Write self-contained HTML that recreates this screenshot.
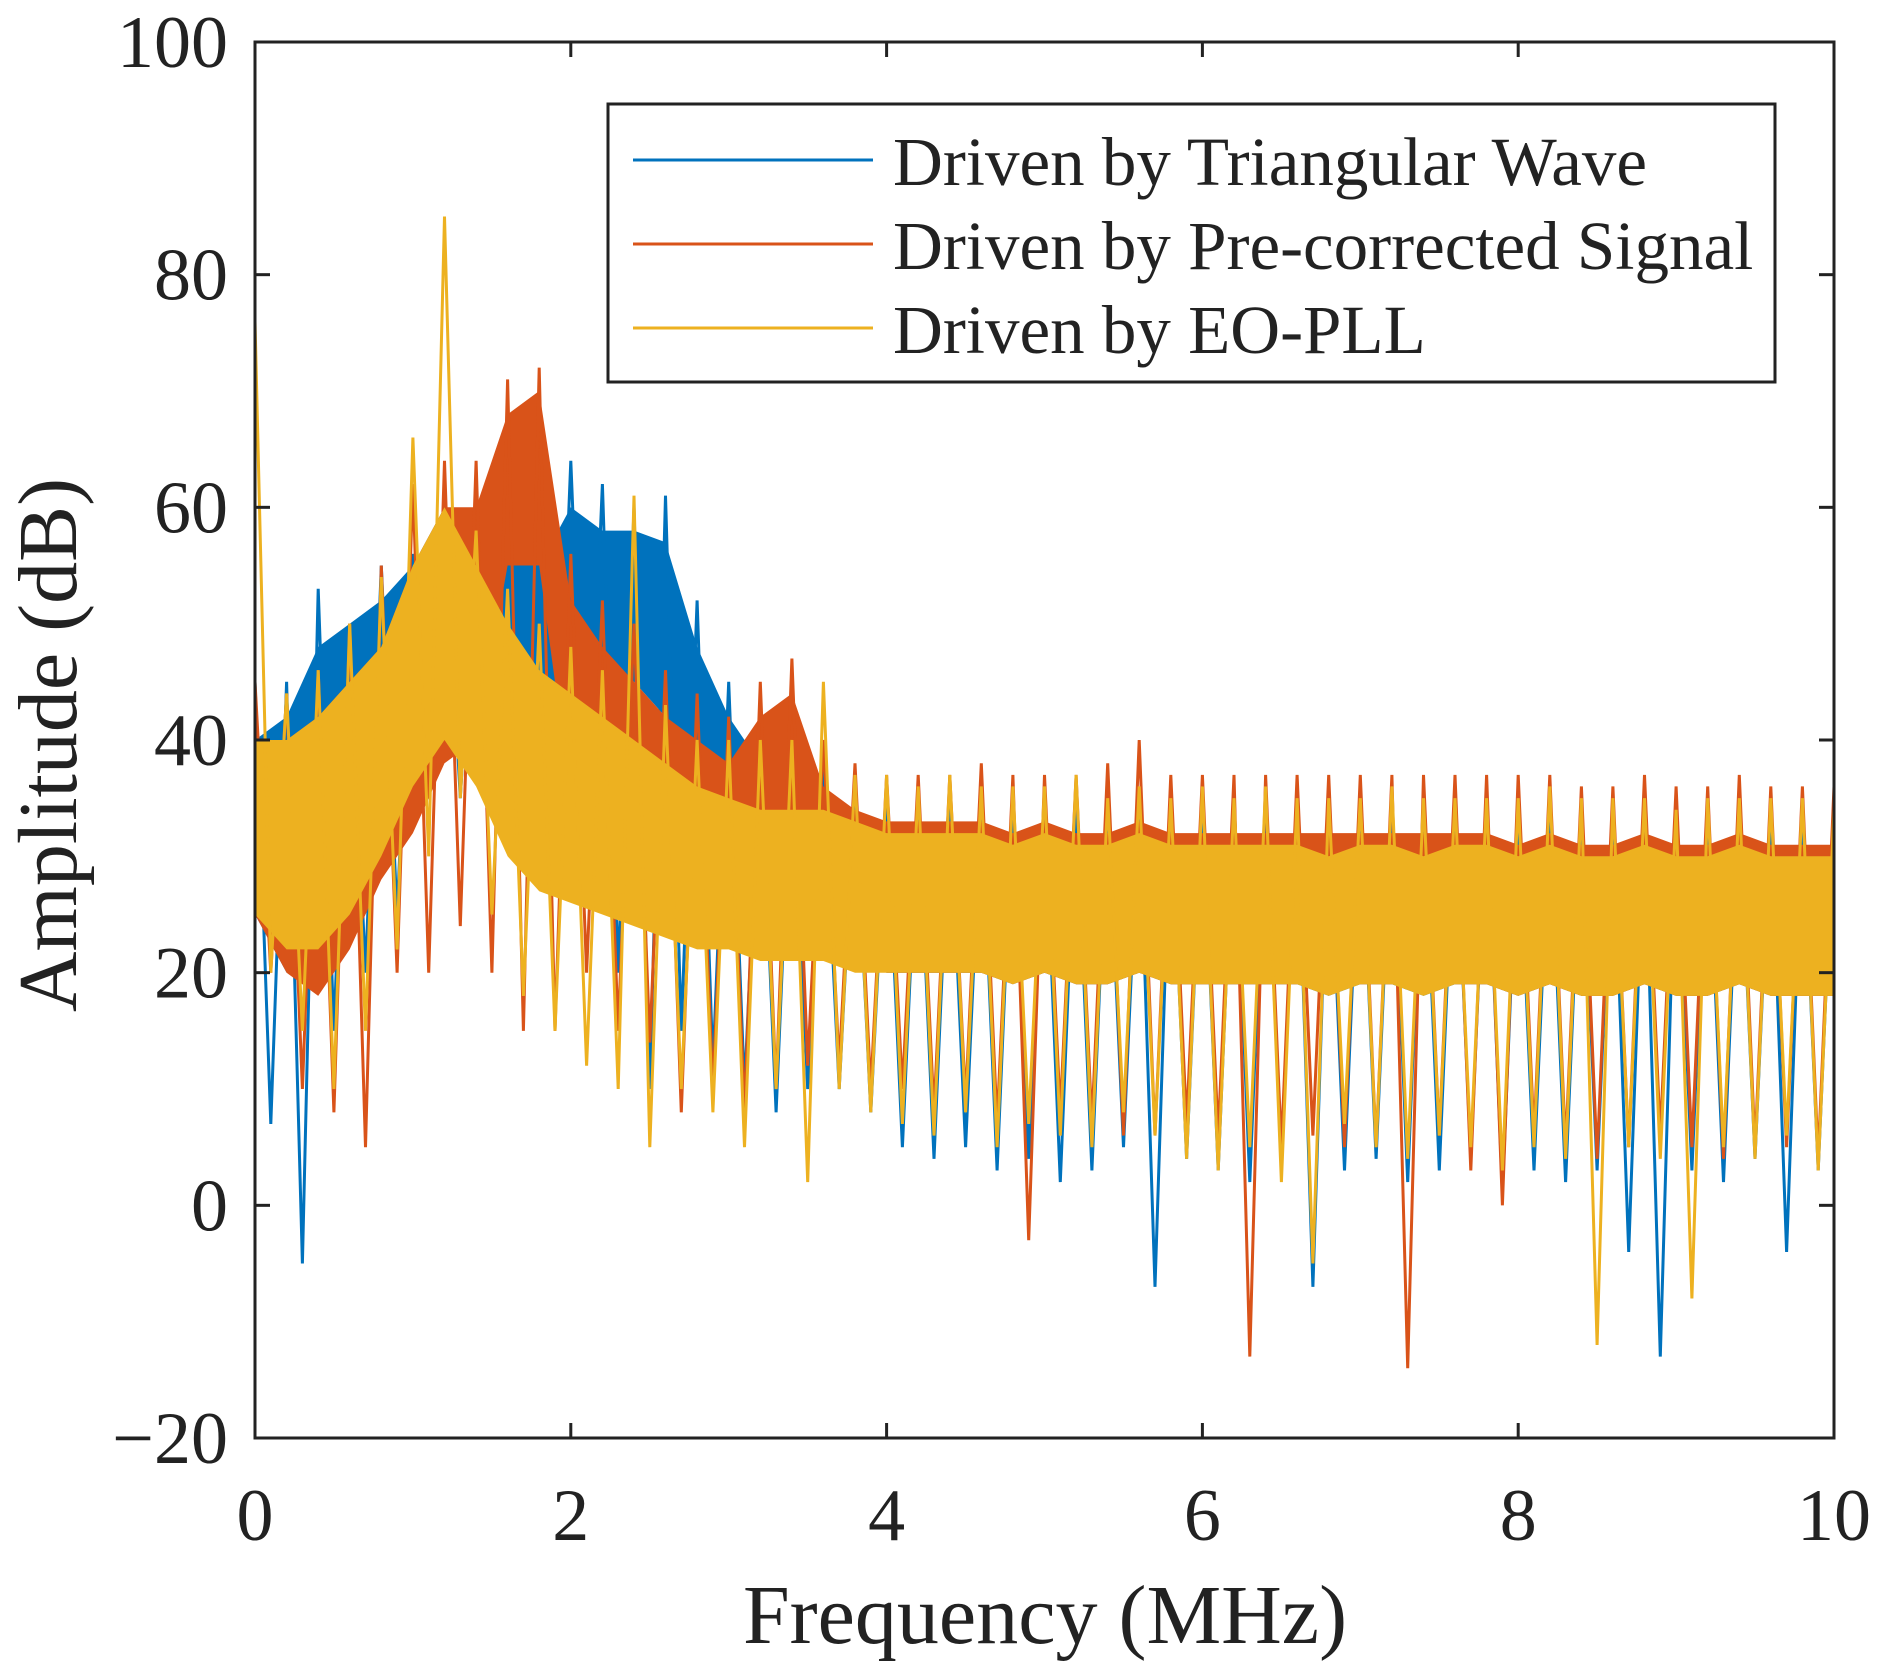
<!DOCTYPE html>
<html><head><meta charset="utf-8"><style>
html,body{margin:0;padding:0;background:#fff;}
svg text{font-family:"Liberation Serif",serif;fill:#222;}
</style></head><body>
<svg id="chart" width="1883" height="1670" viewBox="0 0 1883 1670" xmlns="http://www.w3.org/2000/svg">
<rect width="1883" height="1670" fill="#fff"/>
<defs><clipPath id="clip"><rect x="255" y="42" width="1579" height="1396"/></clipPath></defs>
<g id="plot" clip-path="url(#clip)"></g>
<g id="axes"></g>
<g id="legend">
<rect x="608" y="104" width="1167" height="278" fill="#fff" stroke="#222" stroke-width="3"/>
<line x1="633" y1="160" x2="873" y2="160" stroke="#0072BD" stroke-width="3"/>
<text x="893" y="185" font-size="69">Driven by Triangular Wave</text>
<line x1="633" y1="244" x2="873" y2="244" stroke="#D95319" stroke-width="3"/>
<text x="893" y="269" font-size="69">Driven by Pre-corrected Signal</text>
<line x1="633" y1="328" x2="873" y2="328" stroke="#EDB120" stroke-width="3"/>
<text x="893" y="353" font-size="69">Driven by EO-PLL</text>
</g>
<text x="1045" y="1643" font-size="84" text-anchor="middle">Frequency (MHz)</text>
<text transform="translate(76,745) rotate(-90)" font-size="84" text-anchor="middle">Amplitude (dB)</text>
</svg>
<script>
const freqStep = 0.2;
const xTicks = [0,2,4,6,8,10];
const yTicks = [-20,0,20,40,60,80,100];
const yTickLabels = ["\u221220","0","20","40","60","80","100"];
const hiB = [40,42,48,50,52,55,60,58,56,55,60,58,58,57,48,42,38,36,35,33,32,32,32,32,31,32,31,31,32,31,31,31,31,31,30,31,31,30,31,31,30,31,30,30,31,30,30,31,30,30,30];
const loB = [25,20,25,30,35,40,45,45,45,45,45,45,45,42,38,30,28,27,24,22,20,20,20,20,19,20,19,19,20,19,19,19,19,19,18,19,19,18,19,19,18,19,18,18,19,18,18,19,18,18,18];
const pkB = [45,45,53,50,55,56,60,58,58,58,64,62,60,61,52,45,40,40,38,36,35,35,35,35,35,35,35,35,35,35,35,35,35,35,35,35,35,35,35,35,34,34,34,34,34,34,34,34,34,34,34];
const dpB = [7,-5,15,20,25,35,35,35,35,30,30,20,10,15,12,10,8,10,10,8,5,4,5,3,4,2,3,5,-7,4,3,2,4,-7,3,4,2,3,4,1,3,2,3,-4,-13,3,2,4,-4,3,3];
const hiO = [40,40,42,45,48,55,60,60,68,70,52,48,45,42,40,38,42,44,36,34,33,33,33,33,32,33,32,32,33,32,32,32,32,32,32,32,32,32,32,32,31,32,31,31,32,31,31,32,31,31,31];
const loO = [25,20,18,22,28,32,38,40,55,55,35,30,28,25,24,23,32,30,22,21,20,20,20,20,19,20,19,19,20,19,19,19,19,19,19,19,19,19,19,19,18,19,18,18,19,18,18,19,18,18,18];
const pkO = [45,44,46,50,55,62,64,64,71,72,56,52,50,46,44,42,45,47,40,38,37,37,37,38,37,37,37,38,40,37,37,37,37,37,37,37,37,37,37,37,37,37,36,36,37,36,36,37,36,36,36];
const dpO = [20,10,8,5,20,20,24,20,15,15,20,15,14,8,10,8,10,12,12,10,10,8,9,7,-3,8,7,6,6,7,6,-13,5,6,5,5,-14,6,3,0,6,5,4,5,6,5,4,5,5,4,5];
const hiY = [40,40,42,45,48,55,60,55,50,46,44,42,40,38,36,35,34,34,34,33,32,32,32,32,31,32,31,31,32,31,31,31,31,31,30,31,31,30,31,31,30,31,30,30,31,30,30,31,30,30,30];
const loY = [25,22,22,25,30,36,40,36,30,27,26,25,24,23,22,22,21,21,21,20,20,20,20,20,19,20,19,19,20,19,19,19,19,19,18,19,19,18,19,19,18,19,18,18,19,18,18,19,18,18,18];
const pkY = [76,44,46,50,54,66,85,58,53,50,48,46,61,43,40,40,40,40,45,37,37,36,37,36,36,36,37,35,36,35,36,35,36,35,35,35,36,35,35,35,35,36,35,35,35,34,35,35,35,35,34];
const dpY = [20,15,10,15,22,30,35,25,18,15,12,10,5,10,8,5,10,2,10,8,7,6,8,5,7,6,5,8,6,4,3,5,2,-5,7,5,4,6,5,3,5,4,-12,5,4,-8,5,4,6,3,1];

const X0=255,X1=1834,Y0=1438,Y1=42;
function xs(f){return X0+(f/10)*(X1-X0);}
function ys(v){return Y0-((v+20)/120)*(Y0-Y1);}
const NS="http://www.w3.org/2000/svg";
const plot=document.getElementById('plot');
function drawSeries(name,color,hi,lo,pk,dp){
  const g=document.createElementNS(NS,'g');
  
  
  let pts=[];
  for(let i=0;i<hi.length;i++)pts.push(xs(i*freqStep).toFixed(1)+','+ys(hi[i]).toFixed(1));
  for(let i=lo.length-1;i>=0;i--)pts.push(xs(i*freqStep).toFixed(1)+','+ys(lo[i]).toFixed(1));
  const band=document.createElementNS(NS,'polygon');
  
  
  band.setAttribute('points',pts.join(' '));
  band.setAttribute('fill',color);
  g.appendChild(band);
  let z=[];
  for(let i=0;i<pk.length;i++){
    z.push(xs(i*freqStep).toFixed(1)+','+ys(pk[i]).toFixed(1));
    z.push(xs(i*freqStep+freqStep/2).toFixed(1)+','+ys(dp[i]).toFixed(1));
  }
  const line=document.createElementNS(NS,'polyline');
  
  
  line.setAttribute('points',z.join(' '));
  line.setAttribute('fill','none');
  line.setAttribute('stroke',color);
  line.setAttribute('stroke-width','3');
  g.appendChild(line);
  plot.appendChild(g);
}
drawSeries('series-triangular-wave','#0072BD',hiB,loB,pkB,dpB);
drawSeries('series-precorrected-signal','#D95319',hiO,loO,pkO,dpO);
drawSeries('series-eo-pll','#EDB120',hiY,loY,pkY,dpY);

const axes=document.getElementById('axes');
const frame=document.createElementNS(NS,'rect');


frame.setAttribute('x',X0);frame.setAttribute('y',Y1);
frame.setAttribute('width',X1-X0);frame.setAttribute('height',Y0-Y1);
frame.setAttribute('fill','none');frame.setAttribute('stroke','#222');frame.setAttribute('stroke-width','3');
axes.appendChild(frame);
function ln(x1,y1,x2,y2){const l=document.createElementNS(NS,'line');
  
  
  l.setAttribute('x1',x1);l.setAttribute('y1',y1);l.setAttribute('x2',x2);l.setAttribute('y2',y2);
  l.setAttribute('stroke','#222');l.setAttribute('stroke-width','3');axes.appendChild(l);}
xTicks.forEach(t=>{
  const x=xs(t);ln(x,Y0,x,Y0-15);ln(x,Y1,x,Y1+15);
  const tx=document.createElementNS(NS,'text');
  
  
  tx.setAttribute('x',x);tx.setAttribute('y',1540);tx.setAttribute('font-size','74');tx.setAttribute('text-anchor','middle');
  tx.textContent=String(t);axes.appendChild(tx);
});
yTicks.forEach((t,i)=>{
  const y=ys(t);ln(X0,y,X0+15,y);ln(X1,y,X1-15,y);
  const tx=document.createElementNS(NS,'text');
  
  
  tx.setAttribute('x',228);tx.setAttribute('y',y+25);tx.setAttribute('font-size','74');tx.setAttribute('text-anchor','end');
  tx.textContent=yTickLabels[i];axes.appendChild(tx);
});
</script>
</body></html>
